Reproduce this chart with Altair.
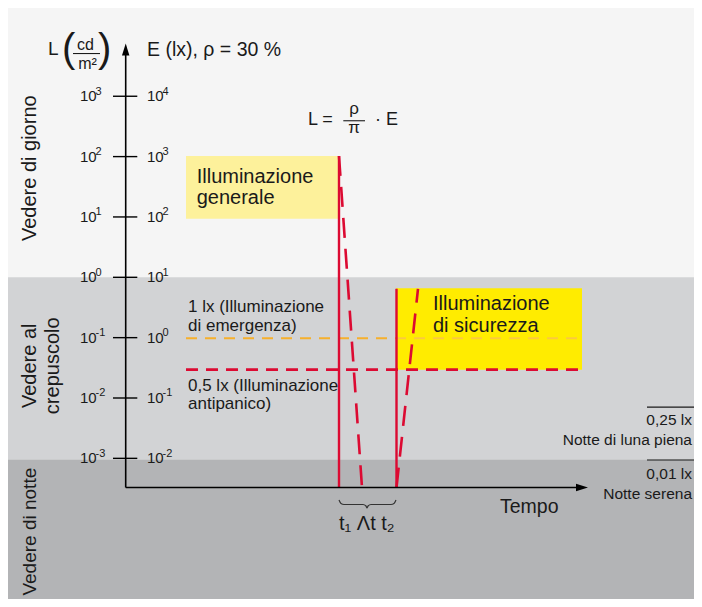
import altair as alt
import pandas as pd

# ---------------- data ----------------
# vertical scale: log10 of luminance L (cd/m²); E (lx) is one decade higher (rho = 30 %)
L_EXPONENTS = [3, 2, 1, 0, -1, -2, -3]
E_EXPONENTS = [4, 3, 2, 1, 0, -1, -2]

BAND_NAMES = ["giorno", "crepuscolo", "notte"]
BAND_LOW = [0.0, -3.02, -7.0]
BAND_HIGH = [6.0, 0.0, -3.02]
BAND_COLORS = ["#f5f5f5", "#d2d3d5", "#b3b4b6"]

# time markers (arbitrary units, origin on the vertical axis)
T_START, T1, T_DIP, T2, T_RISE, T_END = 60.3, 213.3, 236.3, 270.8, 292.3, 456.3
T_AXIS_END, T_ARROW = 452.0, 456.3
# luminance levels (log10 cd/m²)
LOG_GENERAL_TOP, LOG_GENERAL_LOW = 2.01, 0.97
LOG_SAFETY_TOP, LOG_SAFETY = -0.18, -0.19
LOG_EMERGENCY = -1.01   # 1 lx
LOG_ANTIPANIC = -1.53   # 0,5 lx
LOG_AXIS = -3.483
LOG_AXIS_TOP, LOG_ARROW = 3.766, 3.775
LOG_MOON = -2.15        # 0,25 lx
LOG_CLEAR = -3.027      # 0,01 lx

# annotation texts (left aligned)
TXT_LABELS = ["E (lx), \u03c1 = 30 %", "L", "Illuminazione", "generale", "Illuminazione", "di sicurezza",
              "1 lx (Illuminazione", "di emergenza)", "0,5 lx (Illuminazione", "antipanico)", "Tempo",
              "L =", "\u00b7 E"]
TXT_T = [21.3, -77.7, 71.0, 71.0, 307.3, 307.3, 62.3, 62.3, 62.3, 62.3, 374.3, 182.3, 249.3]
TXT_D = [3.766, 3.783, 1.670, 1.322, -0.447, -0.815, -0.497, -0.802, -1.798, -2.104, -3.814, 2.606, 2.606]
TXT_FS = [19.5, 19, 20, 20, 20, 20, 17, 17, 17, 17, 19.5, 18, 18]

# night references, right aligned at the right edge
NIGHT_LABELS = ["0,25 lx", "Notte di luna piena", "0,01 lx", "Notte serena"]
NIGHT_T = [566.3, 566.3, 566.3, 566.3]
NIGHT_D = [-2.360, -2.688, -3.262, -3.598]

# centred texts on alphabetic baseline (fraction parts)
FRAC_LABELS = ["\u03c1", "\u03c0", "cd", "m\u00b2"]
FRAC_T = [228.3, 228.3, -40.2, -38.2]
FRAC_D = [2.706, 2.386, 3.765, 3.45]
FRAC_FS = [17, 17, 16, 16]

PAREN_LABELS = ["(", ")"]
PAREN_T = [-63.7, -27.7]
PAREN_D = [3.561, 3.561]

BAR_T0 = [217.6, -52.7]
BAR_T1 = [239.3, -25.7]
BAR_D = [2.594, 3.708]

# rotated side labels
SIDE_LABELS = ["Vedere di giorno", "Vedere al", "crepuscolo", "Vedere di notte"]
SIDE_T = [-95.7, -95.7, -72.7, -95.7]
SIDE_D = [1.808, -1.466, -1.466, -4.215]
SIDE_FS = [20, 20, 20, 19]

# brace under t1 .. t2
BRACE_T = [213.3, 215.3, 218.3, 237.3, 240.3, 241.3, 242.3, 245.3, 265.3, 268.3, 270.3]
BRACE_D = [-3.690, -3.748, -3.765, -3.765, -3.790, -3.823, -3.790, -3.765, -3.765, -3.748, -3.690]

# ---------------- chart ----------------
W, H = 686, 591
XS = alt.Scale(domain=[-117.7, 568.3], nice=False, zero=False)
YS = alt.Scale(domain=[-5.3306, 4.4623], nice=False, zero=False)
FONT = "Liberation Sans"
INK = "#1a1a1a"
RED = "#dc0a32"


def ex(f="t"):
    return alt.X(f"{f}:Q", scale=XS, axis=None)


def ey(f="d"):
    return alt.Y(f"{f}:Q", scale=YS, axis=None)


bands = alt.Chart(pd.DataFrame({"name": BAND_NAMES, "lo": BAND_LOW, "hi": BAND_HIGH,
                                "a": [-200] * 3, "b": [800] * 3})).mark_rect(clip=True).encode(
    x=ex("a"), x2="b", y=ey("lo"), y2="hi",
    color=alt.Color("name:N", scale=alt.Scale(domain=BAND_NAMES, range=BAND_COLORS), legend=None))

general_box = alt.Chart(pd.DataFrame({"a": [T_START], "b": [T1 - 0.5], "lo": [LOG_GENERAL_LOW],
                                      "hi": [LOG_GENERAL_TOP]})).mark_rect(color="#fdf19b").encode(
    x=ex("a"), x2="b", y=ey("lo"), y2="hi")

safety_box = alt.Chart(pd.DataFrame({"a": [T2 - 0.5], "b": [T_END], "lo": [LOG_ANTIPANIC],
                                     "hi": [LOG_SAFETY_TOP]})).mark_rect(color="#ffec00").encode(
    x=ex("a"), x2="b", y=ey("lo"), y2="hi")

orange_out = alt.Chart(pd.DataFrame({"a": [T_START], "b": [T2 - 0.5], "d": [LOG_EMERGENCY]})).mark_rule(
    color="#f6b02c", strokeWidth=2.2, strokeDash=[11, 8]).encode(x=ex("a"), x2="b", y=ey())
orange_in = alt.Chart(pd.DataFrame({"a": [T2 - 0.5], "b": [T_END], "d": [LOG_EMERGENCY]})).mark_rule(
    color="#fbc93e", strokeWidth=2.2, strokeDash=[11, 8], strokeDashOffset=1).encode(x=ex("a"), x2="b", y=ey())

red_h = alt.Chart(pd.DataFrame({"a": [T_START], "b": [T_END], "d": [LOG_ANTIPANIC]})).mark_rule(
    color=RED, strokeWidth=2.6, strokeDash=[12, 8]).encode(x=ex("a"), x2="b", y=ey())

solid_df = pd.DataFrame({"a": [T1, T2], "b": [T1, T2], "d0": [LOG_GENERAL_TOP, LOG_SAFETY],
                         "d1": [LOG_AXIS, LOG_AXIS]})
red_solid = alt.Chart(solid_df).mark_rule(color=RED, strokeWidth=2.4).encode(
    x=ex("a"), x2="b", y=ey("d0"), y2="d1")

dashed_df = pd.DataFrame({"a": [T1, T2], "b": [T_DIP, T_RISE], "d0": [LOG_GENERAL_TOP, LOG_AXIS],
                          "d1": [LOG_AXIS, LOG_SAFETY]})
red_dashed = alt.Chart(dashed_df).mark_rule(color=RED, strokeWidth=2.6, strokeDash=[20, 11]).encode(
    x=ex("a"), x2="b", y=ey("d0"), y2="d1")

y_axis = alt.Chart(pd.DataFrame({"t": [0], "d0": [LOG_AXIS], "d1": [LOG_AXIS_TOP]})).mark_rule(
    color="black", strokeWidth=1.6).encode(x=ex(), y=ey("d0"), y2="d1")
x_axis = alt.Chart(pd.DataFrame({"a": [0], "b": [T_AXIS_END], "d": [LOG_AXIS]})).mark_rule(
    color="black", strokeWidth=1.6).encode(x=ex("a"), x2="b", y=ey())
ticks = alt.Chart(pd.DataFrame({"d": L_EXPONENTS, "a": [-12.7] * 7, "b": [11.6] * 7})).mark_rule(
    color="black", strokeWidth=1.4).encode(x=ex("a"), x2="b", y=ey())

arrow_up = alt.Chart(pd.DataFrame({"t": [0], "d": [LOG_ARROW]})).mark_point(
    shape="M-0.62,1L0,-1L0.62,1Z", size=144, filled=True, color="black", opacity=1).encode(x=ex(), y=ey())
arrow_right = alt.Chart(pd.DataFrame({"t": [T_ARROW], "d": [LOG_AXIS]})).mark_point(
    shape="M-1,-0.62L1,0L-1,0.62Z", size=144, filled=True, color="black", opacity=1).encode(x=ex(), y=ey())

overlines = alt.Chart(pd.DataFrame({"a": [521.3, 521.3], "b": [700, 700], "d": [LOG_MOON, LOG_CLEAR]})).mark_rule(
    color=INK, strokeWidth=1.2, clip=True).encode(x=ex("a"), x2="b", y=ey())

bars = alt.Chart(pd.DataFrame({"a": BAR_T0, "b": BAR_T1, "d": BAR_D})).mark_rule(
    color=INK, strokeWidth=1.1).encode(x=ex("a"), x2="b", y=ey())

brace = alt.Chart(pd.DataFrame({"t": BRACE_T, "d": BRACE_D, "i": list(range(len(BRACE_T)))})).mark_line(
    color="#333333", strokeWidth=1.2, interpolate="monotone").encode(x=ex(), y=ey(), order="i:Q")


def text_layer(labels, ts, ds, fs, **kw):
    df = pd.DataFrame({"label": labels, "t": ts, "d": ds, "fs": fs})
    return alt.Chart(df).mark_text(font=FONT, color=INK, **kw).encode(
        x=ex(), y=ey(), text="label:N", size=alt.Size("fs:Q", scale=None))


texts = text_layer(TXT_LABELS, TXT_T, TXT_D, TXT_FS, align="left", baseline="middle")
night = text_layer(NIGHT_LABELS, NIGHT_T, NIGHT_D, [15.5] * 4, align="right", baseline="middle")
frac = text_layer(FRAC_LABELS, FRAC_T, FRAC_D, FRAC_FS, align="center", baseline="alphabetic")
parens = text_layer(PAREN_LABELS, PAREN_T, PAREN_D, [40, 40], align="left", baseline="alphabetic")
side = text_layer(SIDE_LABELS, SIDE_T, SIDE_D, SIDE_FS, align="center", baseline="middle", angle=270)
tlabel = text_layer(["t\u2081 \u039bt t\u2082"], [241.1], [-4.088], [20], align="center", baseline="middle")

tick_base_l = text_layer(["10"] * 7, [-45.7] * 7, L_EXPONENTS, [15] * 7, align="left", baseline="middle")
tick_exp_l = text_layer([str(e) for e in L_EXPONENTS], [-45.7] * 7, L_EXPONENTS, [11] * 7,
                        align="left", baseline="middle", dx=15.5, dy=-4.5)
tick_base_e = text_layer(["10"] * 7, [21.3] * 7, L_EXPONENTS, [15] * 7, align="left", baseline="middle")
tick_exp_e = text_layer([str(e) for e in E_EXPONENTS], [21.3] * 7, L_EXPONENTS, [11] * 7,
                        align="left", baseline="middle", dx=15.5, dy=-4.5)

chart = alt.layer(
    bands, general_box, safety_box, orange_out, orange_in, red_h, red_solid, red_dashed,
    y_axis, x_axis, ticks, arrow_up, arrow_right, overlines, bars, brace,
    texts, night, frac, parens, side, tlabel, tick_base_l, tick_exp_l, tick_base_e, tick_exp_e,
).properties(width=W, height=H, padding=0, autosize="none", background="#f5f5f5").configure_view(strokeWidth=0)

chart.save("out.html", embed_options={"renderer": "svg", "actions": False})
